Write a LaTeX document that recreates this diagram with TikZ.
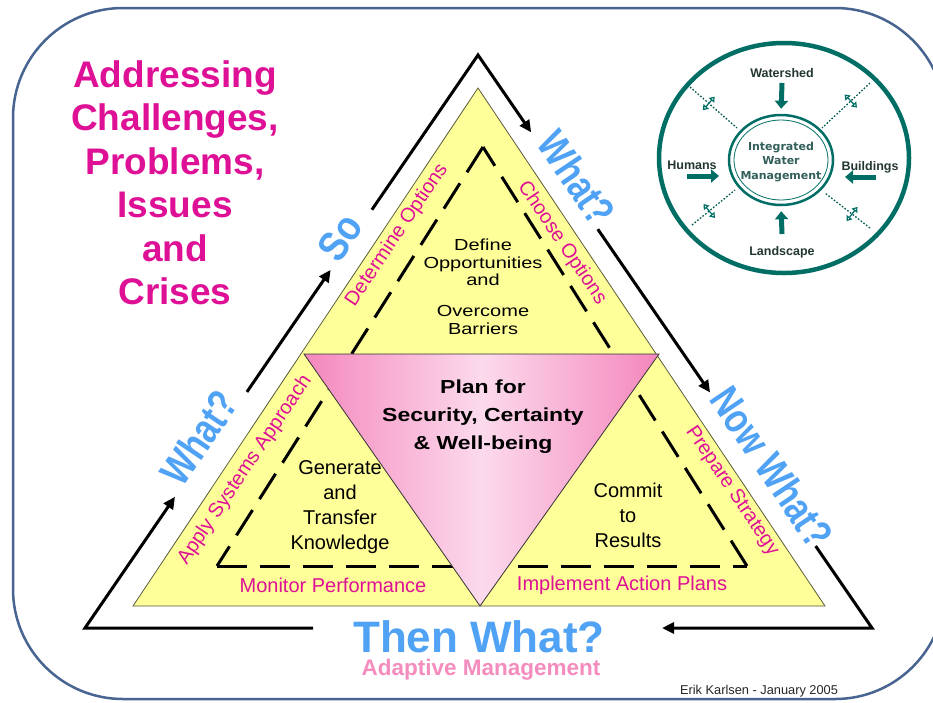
\documentclass[tikz,border=0pt]{standalone}
\usepackage{fontspec}
\setmainfont{Liberation Sans}
\newfontfamily\dvs{DejaVu Sans}
\usetikzlibrary{arrows.meta,calc,shapes.geometric}
\definecolor{frameblue}{RGB}{72,100,145}
\definecolor{magtxt}{RGB}{222,16,150}
\definecolor{skyblue}{RGB}{80,162,245}
\definecolor{pinktxt}{RGB}{244,140,190}
\definecolor{tri}{RGB}{255,255,153}
\definecolor{triedge}{RGB}{90,90,60}
\definecolor{pinkA}{RGB}{244,135,188}
\definecolor{pinkB}{RGB}{252,218,236}
\definecolor{iwmteal}{RGB}{0,110,100}
\definecolor{iwmtext}{RGB}{50,95,90}
\definecolor{labdark}{RGB}{35,55,50}
\begin{document}
\begin{tikzpicture}[x=1pt,y=-1pt,
  txt/.style={inner sep=0pt, align=center},
  bigmag/.style={txt, text=magtxt, font=\fontsize{37}{43.5}\selectfont\bfseries},
  bluebig/.style={txt, text=skyblue, font=\fontsize{42}{48}\selectfont\bfseries},
  lab/.style={txt, text=magtxt, font=\fontsize{20}{24}\selectfont},
  innertxt/.style={txt, text=black, font=\fontsize{20}{25}\selectfont},
  flow/.style={line width=3pt, -{Triangle[length=12pt,width=11pt]}},
  clab/.style={txt, text=labdark, font=\fontsize{12.5}{14}\selectfont\bfseries},
  blockarrow/.style={iwmteal, line width=5pt, -{Triangle[length=8pt,width=13pt]}},
  dotline/.style={iwmteal!80!black, line width=1.3pt, dash pattern=on 1.6pt off 1.8pt},
  dbl/.style={iwmteal, line width=1.2pt, {Triangle[open,length=5pt,width=7pt]}-{Triangle[open,length=5pt,width=7pt]}}
]
\useasboundingbox (0,0) rectangle (933,702);
\clip (0,0) rectangle (933,702);
\fill[white] (0,0) rectangle (933,702);
\draw[frameblue, line width=2.5pt, rounded corners=110pt] (13,8) rectangle (945,699);

% yellow triangle
\coordinate (Y1) at (478,88);
\coordinate (Y2) at (133,606);
\coordinate (Y3) at (825,606);
\draw[fill=tri, draw=triedge, line width=0.8pt] (Y1) -- (Y2) -- (Y3) -- cycle;

% dashed triangle
\coordinate (D1) at (483,147);
\coordinate (D2) at (217,566);
\coordinate (D3) at (747,566);
\draw[line width=3pt, dash pattern=on 30pt off 13pt] (D1) -- (D2);
\draw[line width=3pt, dash pattern=on 30pt off 13pt] (D2) -- (D3);
\draw[line width=3pt, dash pattern=on 30pt off 13pt] (D3) -- (D1);

% pink triangle
\coordinate (P1) at (304,354);
\coordinate (P2) at (659,354);
\coordinate (P3) at (480,606);
\shade[left color=pinkA, right color=pinkA, middle color=pinkB] (P1) -- (P2) -- (P3) -- cycle;
\draw[line width=0.8pt, draw=black!80] (P1) -- (P2) -- (P3) -- cycle;

% outer flow arrows
\coordinate (A) at (478,55);
\coordinate (BL) at (85,628);
\coordinate (BR) at (872,628);
\coordinate (B1) at (313,628);
\coordinate (B2) at (662,628);
\coordinate (L1) at ($(BL)!0.229!(A)$);
\coordinate (L2) at ($(BL)!0.412!(A)$);
\coordinate (L3) at ($(BL)!0.625!(A)$);
\coordinate (L4) at ($(BL)!0.73!(A)$);
\coordinate (R1) at ($(A)!0.135!(BR)$);
\coordinate (R2) at ($(A)!0.304!(BR)$);
\coordinate (R3) at ($(A)!0.589!(BR)$);
\coordinate (R4) at ($(A)!0.857!(BR)$);
\draw[flow] (B1) -- (BL) -- (L1);
\draw[flow] (L2) -- (L3);
\draw[flow] (L4) -- (A) -- (R1);
\draw[flow] (R2) -- (R3);
\draw[flow] (R4) -- (BR) -- (B2);

% left title
\node[bigmag] (addr) at (175,183) {Addressing\\Challenges,\\Problems,\\Issues\\and\\Crises};

% blue questions
\node[bluebig, rotate=56] (so) at (340,237) {\scalebox{0.85}[1]{So}};
\node[bluebig, rotate=56] (w1) at (199,438) {\scalebox{0.8}[1]{What?}};
\node[bluebig, rotate=-56] (w2) at (577,178) {\scalebox{0.8}[1]{What?}};
\node[bluebig, rotate=-56] (nw) at (772,467) {\scalebox{0.8}[1]{Now What?}};
\node[bluebig, font=\fontsize{44}{48}\selectfont\bfseries] (tw) at (479,637) {Then What?};
\node[txt, text=pinktxt, font=\fontsize{22.5}{26}\selectfont\bfseries] (am) at (481,670) {Adaptive Management};

% magenta step labels
\node[lab, rotate=56] (det) at (397,235) {Determine Options};
\node[lab, rotate=-56] (cho) at (562,243) {Choose Options};
\node[lab, rotate=56] (app) at (245,470) {Apply Systems Approach};
\node[lab, rotate=-56] (pre) at (732,491) {Prepare Strategy};
\node[lab] (mon) at (333,585) {Monitor Performance};
\node[lab] (imp) at (622,585) {Implement Action Plans};

% inner texts
\node[txt] (def) at (483,289) {\scalebox{1}[0.8]{\fontsize{20}{22}\selectfont\begin{tabular}{@{}c@{}}Define\\Opportunities\\and\\[17pt]Overcome\\Barriers\end{tabular}}};
\node[txt] (plan) at (483,416) {\scalebox{1}[0.82]{\fontsize{23}{34.5}\selectfont\bfseries\begin{tabular}{@{}c@{}}Plan for\\Security, Certainty\\\& Well-being\end{tabular}}};
\node[innertxt] (gen) at (340,507) {Generate\\and\\Transfer\\Knowledge};
\node[innertxt] (com) at (628,515) {Commit\\to\\Results};

\node[txt, text=black!85, font=\fontsize{12.8}{15}\selectfont] (ek) at (759,691) {Erik Karlsen - January 2005};

% integrated water management circle
\draw[iwmteal, line width=4.5pt] (784,158) ellipse [x radius=125, y radius=115];
\node[ellipse, draw=iwmteal, line width=2.5pt, minimum width=104pt, minimum height=90pt, inner sep=0pt] (ring) at (781,160) {};
\draw[iwmteal, line width=0.8pt] (ring.center) ellipse [x radius=47, y radius=40];
\node[txt, text=iwmtext, font=\dvs\bfseries\fontsize{11}{14.5}\selectfont] (iwm) at (781,162) {Integrated\\Water\\Management};

\node[clab] (ws) at (782,73) {Watershed};
\node[clab] (ls) at (782,252) {Landscape};
\node[clab] (hu) at (692,165) {Humans};
\node[clab] (bu) at (870,167) {Buildings};

\coordinate (wsA) at (782,83);
\coordinate (lsA) at (782,234);
\coordinate (huA) at (687,176);
\coordinate (huB) at (719,176);
\coordinate (buA) at (876,177);
\coordinate (buB) at (845,177);
\draw[blockarrow, shorten >=5pt] (wsA) -- (ring.north);
\draw[blockarrow, shorten >=5pt] (lsA) -- (ring.south);
\draw[blockarrow] (huA) -- (huB);
\draw[blockarrow] (buA) -- (buB);

% dotted diagonals with small double arrows
\coordinate (do1) at (690,87);  \coordinate (di1) at (737,128);
\coordinate (do2) at (870,83);  \coordinate (di2) at (822,128);
\coordinate (do3) at (692,225); \coordinate (di3) at (735,190);
\coordinate (do4) at (870,228); \coordinate (di4) at (825,193);
\draw[dotline] (do1) -- (di1);
\draw[dotline] (do2) -- (di2);
\draw[dotline] (do3) -- (di3);
\draw[dotline] (do4) -- (di4);
\coordinate (dm1) at ($(do1)!0.4!(di1)$);
\coordinate (dm2) at ($(do2)!0.4!(di2)$);
\coordinate (dm3) at ($(do3)!0.4!(di3)$);
\coordinate (dm4) at ($(do4)!0.4!(di4)$);
\draw[dbl] ($(dm1)!9pt!90:(di1)$) -- ($(dm1)!9pt!-90:(di1)$);
\draw[dbl] ($(dm2)!9pt!90:(di2)$) -- ($(dm2)!9pt!-90:(di2)$);
\draw[dbl] ($(dm3)!9pt!90:(di3)$) -- ($(dm3)!9pt!-90:(di3)$);
\draw[dbl] ($(dm4)!9pt!90:(di4)$) -- ($(dm4)!9pt!-90:(di4)$);
\end{tikzpicture}
\end{document}
